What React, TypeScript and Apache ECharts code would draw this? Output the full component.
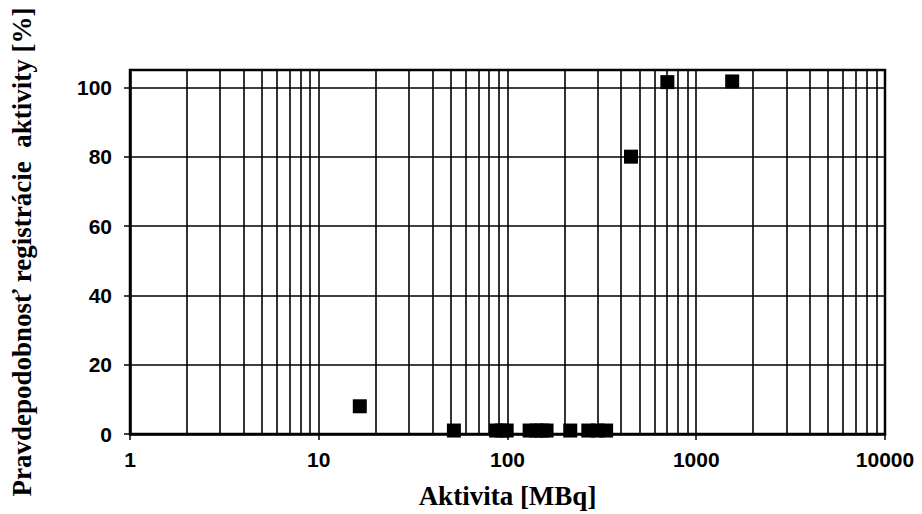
import React, { useEffect, useRef } from "react";
import * as echarts from "echarts";

const activity = [16.5, 52, 87, 93, 99, 131, 142, 152, 161, 215, 268, 300, 333, 451, 703, 1550];
const probability = [8, 1, 1, 1, 1, 1, 1, 1, 1, 1, 1, 1, 1, 80, 101.5, 101.7];
const minorGridValues = [
  2, 3, 4, 5, 6, 7, 8, 9,
  20, 30, 40, 50, 60, 70, 80, 90,
  200, 300, 400, 500, 600, 700, 800, 900,
  2000, 3000, 4000, 5000, 6000, 7000, 8000, 9000,
];
const xTitle = "Aktivita [MBq]";
const yTitle = "Pravdepodobnosť registrácie  aktivity [%]";

export default function App() {
  const ref = useRef<HTMLDivElement>(null);
  useEffect(() => {
    if (!ref.current) return;
    const chart = echarts.init(ref.current, undefined, { renderer: "svg" });
    const lineCol = "#000";
    chart.setOption({
      animation: false,
      backgroundColor: "#fff",
      grid: {
        left: 129,
        right: 37,
        top: 70,
        bottom: 80,
        show: true,
        borderColor: lineCol,
        borderWidth: 2.5,
        backgroundColor: "transparent",
      },
      xAxis: {
        type: "log",
        logBase: 10,
        min: 1,
        max: 10000,
        name: xTitle,
        nameLocation: "middle",
        nameGap: 48,
        nameTextStyle: {
          fontFamily: "Liberation Serif",
          fontWeight: "bold",
          fontSize: 27,
          color: "#000",
        },
        axisLine: { show: true, lineStyle: { color: lineCol, width: 2.5 } },
        axisTick: { show: true, length: 6, lineStyle: { color: lineCol, width: 1.5 } },
        axisLabel: {
          fontFamily: "Liberation Sans",
          fontWeight: "bold",
          fontSize: 21,
          color: "#000",
          margin: 15,
          formatter: (v: number) => String(Math.round(v)),
        },
        splitLine: { show: true, lineStyle: { color: lineCol, width: 1.6 } },
      },
      yAxis: {
        type: "value",
        min: 0,
        max: 105,
        interval: 20,
        name: yTitle,
        nameLocation: "middle",
        nameGap: 95,
        nameTextStyle: {
          fontFamily: "Liberation Serif",
          fontWeight: "bold",
          fontSize: 27,
          color: "#000",
        },
        axisLine: { show: true, lineStyle: { color: lineCol, width: 2.5 } },
        axisTick: { show: true, length: 6, lineStyle: { color: lineCol, width: 1.5 } },
        axisLabel: {
          fontFamily: "Liberation Sans",
          fontWeight: "bold",
          fontSize: 21,
          color: "#000",
          margin: 18,
          showMaxLabel: false,
        },
        splitLine: { show: true, lineStyle: { color: lineCol, width: 1.6 } },
      },
      series: [
        {
          type: "scatter",
          data: activity.map((a, i) => [a, probability[i]]),
          symbol: "rect",
          symbolSize: 14,
          itemStyle: { color: "#000", opacity: 1 },
          z: 5,
          markLine: {
            silent: true,
            symbol: "none",
            label: { show: false },
            lineStyle: { color: lineCol, width: 1.6, type: "solid", opacity: 1 },
            data: minorGridValues.map((v) => ({ xAxis: v })),
          },
        },
      ],
    });
    return () => chart.dispose();
  }, []);
  return (
    <div
      ref={ref}
      style={{ position: "fixed", left: 0, top: 0, width: 922, height: 514 }}
    />
  );
}
